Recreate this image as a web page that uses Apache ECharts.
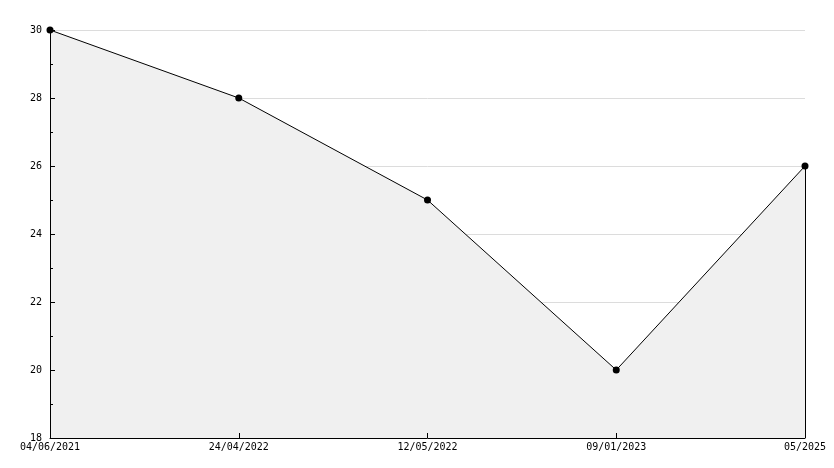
<!DOCTYPE html>
<html>
<head>
<meta charset="utf-8">
<script src="https://cdn.jsdelivr.net/npm/echarts@6/dist/echarts.min.js"></script>
<style>html,body{margin:0;padding:0;background:#fff}#c{width:834px;height:468px}</style>
</head>
<body>
<div id="c"></div>
<script>
const categories = ['04/06/2021', '24/04/2022', '12/05/2022', '09/01/2023', '05/2025'];
const values = [30, 28, 25, 20, 26];
const yTicks = [18, 20, 22, 24, 26, 28, 30];

const font = { fontFamily: 'DejaVu Sans Mono', fontSize: 10, color: '#000' };
const chart = echarts.init(document.getElementById('c'), null, { renderer: 'canvas' });
const lastIdx = categories.length - 1;
const yMin = yTicks[0], yMax = yTicks[yTicks.length - 1];
chart.setOption({
  animation: false,
  backgroundColor: '#fff',
  grid: { left: 50, right: 29, top: 30, bottom: 30, containLabel: false },
  xAxis: {
    type: 'category',
    data: categories,
    boundaryGap: false,
    z: 5,
    axisLine: { lineStyle: { color: '#000', width: 1 } },
    axisTick: { inside: true, length: 5, lineStyle: { color: '#000' }, alignWithLabel: true },
    axisLabel: Object.assign({ margin: 4, interval: 0 }, font),
    splitLine: { show: false }
  },
  yAxis: [{
    type: 'value',
    min: yMin, max: yMax, interval: 2,
    z: 0,
    axisLine: { show: false },
    axisTick: { show: false },
    axisLabel: { show: false },
    splitLine: { show: true, lineStyle: { color: '#dcdcdc', width: 1 } }
  }, {
    type: 'value',
    position: 'left',
    min: yMin, max: yMax, interval: 2,
    z: 6,
    axisLine: { show: true, onZero: false, lineStyle: { color: '#000', width: 1 } },
    axisTick: { show: true, inside: true, length: 5, lineStyle: { color: '#000', width: 1 } },
    minorTick: { show: true, splitNumber: 2, length: 3, lineStyle: { color: '#000', width: 1 } },
    axisLabel: Object.assign({ margin: 8 }, font),
    splitLine: { show: false }
  }],
  series: [{
    type: 'line',
    data: values,
    yAxisIndex: 0,
    symbol: 'circle',
    symbolSize: 7,
    itemStyle: { color: '#000' },
    lineStyle: { color: '#000', width: 1 },
    areaStyle: { color: '#f0f0f0', opacity: 1, origin: 'start' },
    markLine: {
      silent: true,
      symbol: 'none',
      label: { show: false },
      lineStyle: { color: '#000', width: 1, type: 'solid' },
      data: [[{ coord: [lastIdx, values[lastIdx]] }, { coord: [lastIdx, yMin] }]]
    }
  }]
});
</script>
</body>
</html>
